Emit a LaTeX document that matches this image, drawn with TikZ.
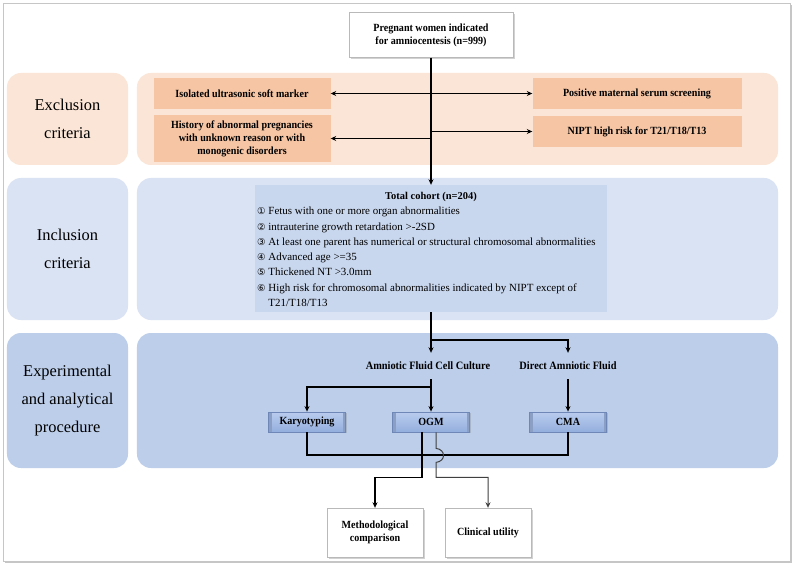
\documentclass[tikz,border=0pt]{standalone}
\usepackage{fontspec}
\setmainfont{Liberation Serif}
\newfontfamily\condbf[FakeStretch=0.92]{Liberation Serif}
\newfontfamily\circfont{DejaVu Sans}
\usetikzlibrary{arrows.meta,shadows}
\definecolor{peachL}{HTML}{FBE5D6}
\definecolor{peachD}{HTML}{F6C5A4}
\definecolor{blueL}{HTML}{DAE3F3}
\definecolor{blueC}{HTML}{C9D7EE}
\definecolor{blueM}{HTML}{BCCEEA}
\definecolor{btntop}{HTML}{BACCEE}
\definecolor{btnbot}{HTML}{93AEDD}
\definecolor{btnedge}{HTML}{6E87B6}
\newcommand{\cn}[1]{{\circfont\fontsize{9.5}{11}\selectfont #1}~}
\tikzset{
  band/.style={rounded corners=14bp, draw=none, inner sep=0pt},
  biglab/.style={band, align=center, font=\fontsize{16.5}{28}\selectfont},
  wbox/.style={draw=gray!55, fill=white, align=center, inner sep=0pt,
    font=\condbf\bfseries\fontsize{11}{13}\selectfont,
    drop shadow={shadow xshift=2bp, shadow yshift=-2bp, opacity=0.35}},
  pbox/.style={fill=peachD, draw=none, align=center, inner sep=0pt,
    font=\condbf\bfseries\fontsize{11}{13}\selectfont},
  btn/.style={top color=btntop, bottom color=btnbot, draw=btnedge, line width=0.8bp, inner sep=0pt,
    minimum width=77bp, minimum height=20bp,
    font=\condbf\bfseries\fontsize{11}{13}\selectfont,
    drop shadow={shadow xshift=1bp, shadow yshift=-1bp, opacity=0.3},
    path picture={
      \fill[btnedge!80] (path picture bounding box.south west) rectangle ([xshift=3bp]path picture bounding box.north west);
      \fill[btnedge!80] ([xshift=-3bp]path picture bounding box.south east) rectangle (path picture bounding box.north east);
    }},
  lbl/.style={inner sep=0pt, minimum height=26bp,
    font=\condbf\bfseries\fontsize{11.3}{13}\selectfont},
  conn/.style={line width=1.2bp, draw=black},
  arr/.style={conn, -{Stealth[length=5.5bp,width=5bp]}}
}
\begin{document}
\begin{tikzpicture}[x=1bp,y=-1bp]
\useasboundingbox (0,0) rectangle (800,572);
% outer frame
\draw[draw=gray!45, fill=white, drop shadow={shadow xshift=2bp, shadow yshift=-2bp, opacity=0.45}] (3,3) rectangle (790,561);

% bands
\node[biglab, fill=peachL, minimum width=121bp, minimum height=92bp] (exlab) at (67.5,119) {Exclusion\\criteria};
\node[band, fill=peachL, minimum width=641bp, minimum height=92bp] (exband) at (457.5,119) {};
\node[biglab, fill=blueL, minimum width=121bp, minimum height=142bp] (inlab) at (67.5,249) {Inclusion\\criteria};
\node[band, fill=blueL, minimum width=641bp, minimum height=142bp] (inband) at (457.5,249) {};
\node[biglab, fill=blueM, minimum width=121bp, minimum height=135bp] (explab) at (67.5,400.5) {Experimental\\and analytical\\procedure};
\node[band, fill=blueM, minimum width=641bp, minimum height=135bp] (expband) at (457.5,400.5) {};

% top box
\node[wbox, minimum width=164bp, minimum height=45bp] (top) at (431,35) {Pregnant women indicated\\for amniocentesis (n=999)};

% exclusion boxes
\node[pbox, minimum width=177bp, minimum height=31bp] (iso) at (242,93.5) {Isolated ultrasonic soft marker};
\node[pbox, minimum width=177bp, minimum height=47bp] (hist) at (242,138.5) {History of abnormal pregnancies\\with unknown reason or with\\monogenic disorders};
\node[pbox, minimum width=209bp, minimum height=31bp] (pos) at (637,93.5) {Positive maternal serum screening};
\node[pbox, minimum width=209bp, minimum height=31bp] (nipt) at (637,131.5) {NIPT high risk for T21/T18/T13};

% cohort box
\node[fill=blueC, draw=none, minimum width=352bp, minimum height=127bp, inner sep=0pt] (cohort) at (431,248.5) {};
\node[inner sep=0pt, font=\bfseries\fontsize{10.5}{12}\selectfont] (ctitle) at (431,197) {Total cohort (n=204)};
\node[inner sep=0pt, anchor=north west, align=left, font=\fontsize{11}{15.3}\selectfont] (clist) at (257,207) {%
\cn{①}Fetus with one or more organ abnormalities\\
\cn{②}intrauterine growth retardation >-2SD\\
\cn{③}At least one parent has numerical or structural chromosomal abnormalities\\
\cn{④}Advanced age >=35\\
\cn{⑤}Thickened NT >3.0mm\\
\cn{⑥}High risk for chromosomal abnormalities indicated by NIPT except of\\
\hphantom{\cn{⑥}}T21/T18/T13};

% trunk and exclusion arrows
\draw[arr] (top.south) -- (cohort.north);
\draw[arr] (top.south |- iso.east) -- (iso.east);
\draw[arr] (top.south |- pos.west) -- (pos.west);
\draw[arr] (top.south |- hist.east) -- (hist.east);
\draw[arr] (top.south |- nipt.west) -- (nipt.west);

% experimental
\coordinate (split) at (431,340);
\node[lbl] (afcc) at (428,366) {Amniotic Fluid Cell Culture};
\node[lbl] (daf) at (568,366) {Direct Amniotic Fluid};
\node[btn] (karyo) at (307,422) {Karyotyping};
\node[btn] (ogm) at (431,422) {OGM};
\node[btn] (cma) at (568,422) {CMA};
\draw[conn] (cohort.south) -- (split);
\draw[arr] (split) -- (split |- afcc.north);
\draw[arr] (split) -| (daf.north);
\coordinate (br) at (431,387);
\draw[arr] (afcc.south -| ogm.north) -- (ogm.north);
\draw[arr] (br) -| (karyo.north);
\draw[arr] (daf.south) -- (cma.north);

% bottom
\node[wbox, minimum width=96bp, minimum height=49bp] (meth) at (375,532.5) {Methodological\\comparison};
\node[wbox, minimum width=86bp, minimum height=49bp] (clin) at (488,532.5) {Clinical utility};
\coordinate (hl) at (0,455);
\draw[conn] (karyo.south) |- (hl -| cma.south) -- (cma.south);
\draw[arr] ([xshift=-9bp]ogm.south) -- ++(0,45) -| (meth.north);
\draw[arr, draw=black!75, line width=1bp] ([xshift=5bp]ogm.south) -- ++(0,16) .. controls +(10,1) and +(10,-1) .. ++(0,14) -- ++(0,15) -| (clin.north);
\end{tikzpicture}
\end{document}
